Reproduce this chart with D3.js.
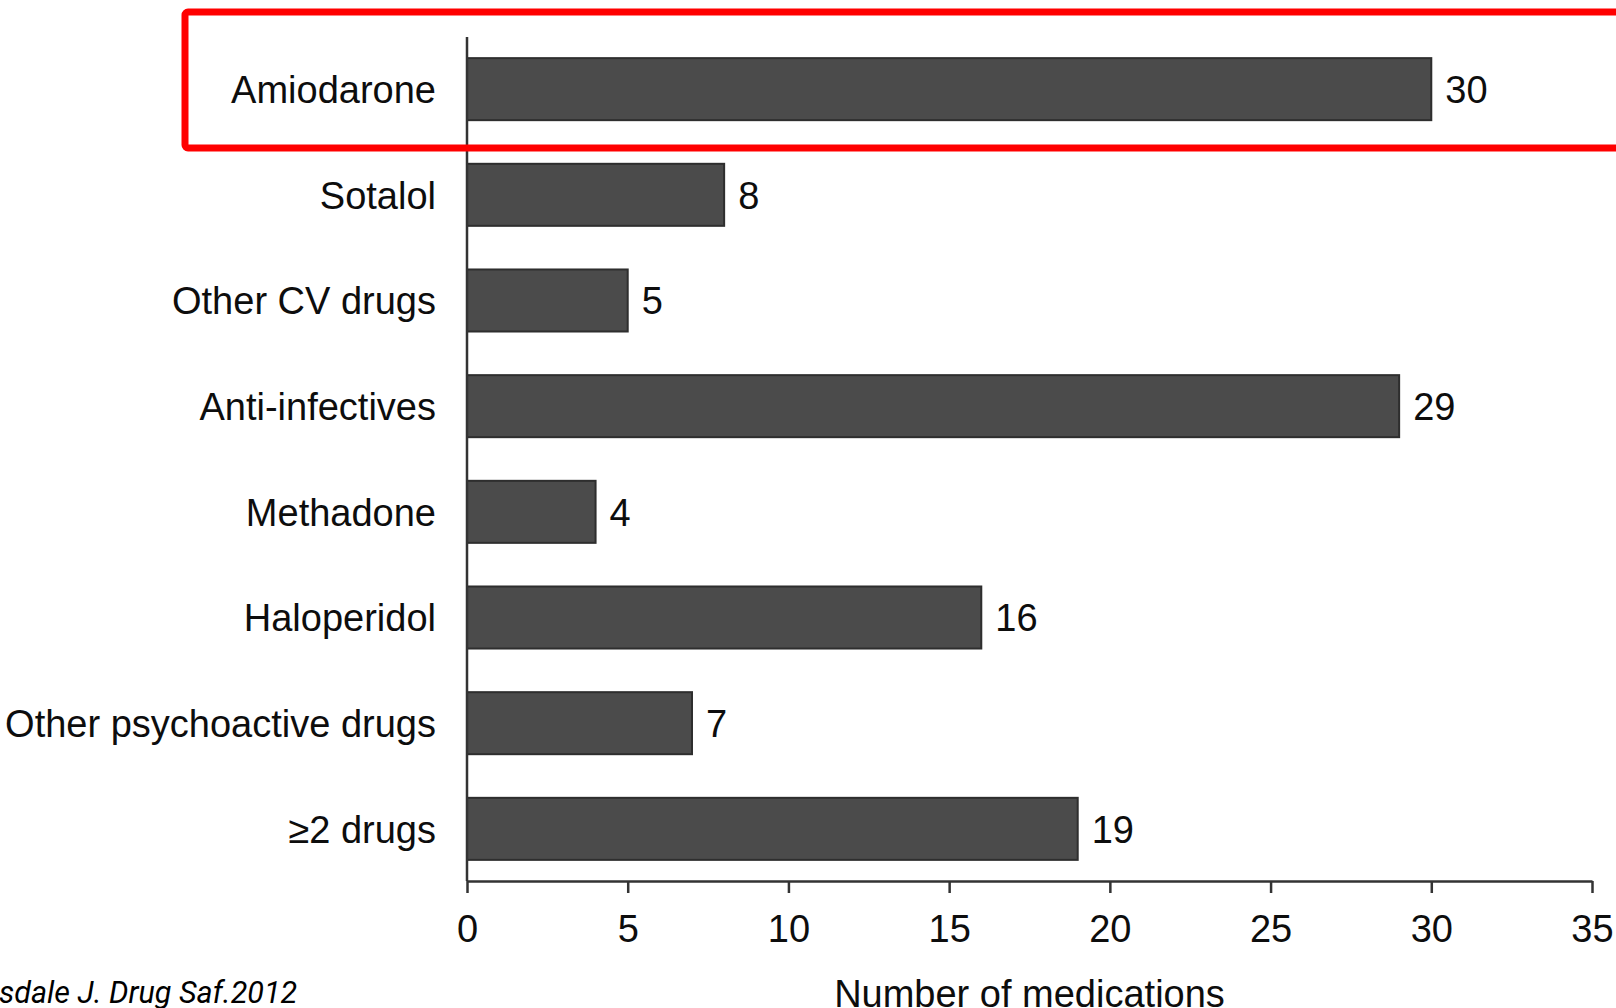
<!DOCTYPE html>
<html>
<head>
<meta charset="utf-8">
<script src="https://cdn.jsdelivr.net/npm/d3@7"></script>
<style>
  html, body { margin: 0; padding: 0; background: #fff; }
  svg { display: block; }
</style>
</head>
<body>
<svg id="chart" width="1616" height="1008"></svg>
<script>
// Drug classes associated with torsades de pointes
const categories = [
  "Amiodarone",
  "Sotalol",
  "Other CV drugs",
  "Anti-infectives",
  "Methadone",
  "Haloperidol",
  "Other psychoactive drugs",
  "\u22652 drugs"
];
const counts = [30, 8, 5, 29, 4, 16, 7, 19];
const xTicks = [0, 5, 10, 15, 20, 25, 30, 35];
const xTitle = "Number of medications";
const citation = "Tisdale J. Drug Saf.2012";

(function draw() {
  const plotLeft = 467, plotRight = 1592, plotTop = 37, plotBottom = 881;
  const font = "'Liberation Sans', Arial, Helvetica, sans-serif";
  const ink = "#0d0d0d";

  const svg = d3.select("#chart");

  const x = d3.scaleLinear().domain([0, 35]).range([plotLeft, plotRight]);
  const y = d3.scaleBand()
    .domain(categories)
    .range([plotTop, plotBottom])
    .paddingInner(0.413)
    .paddingOuter(0.2);

  const data = categories.map((c, i) => ({ c, v: counts[i] }));

  // Bars
  svg.append("g")
    .selectAll("rect")
    .data(data)
    .join("rect")
    .attr("x", x(0))
    .attr("y", d => y(d.c))
    .attr("width", d => x(d.v) - x(0))
    .attr("height", y.bandwidth())
    .attr("fill", "#4b4b4b")
    .attr("stroke", "#2e2e2e")
    .attr("stroke-width", 2);

  // Value labels
  svg.append("g")
    .selectAll("text")
    .data(data)
    .join("text")
    .attr("x", d => x(d.v) + 14)
    .attr("y", d => y(d.c) + y.bandwidth() / 2)
    .attr("dy", "0.36em")
    .attr("font-family", font)
    .attr("font-size", 38)
    .attr("fill", ink)
    .text(d => d.v);

  // Category labels
  svg.append("g")
    .selectAll("text")
    .data(data)
    .join("text")
    .attr("x", plotLeft - 31)
    .attr("y", d => y(d.c) + y.bandwidth() / 2)
    .attr("dy", "0.36em")
    .attr("text-anchor", "end")
    .attr("font-family", font)
    .attr("font-size", 38)
    .attr("fill", ink)
    .text(d => d.c);

  // Y axis line
  svg.append("line")
    .attr("x1", plotLeft).attr("x2", plotLeft)
    .attr("y1", plotTop).attr("y2", plotBottom)
    .attr("stroke", "#333").attr("stroke-width", 2.5);

  // X axis
  const xAxis = svg.append("g")
    .attr("transform", `translate(0,${plotBottom})`)
    .call(d3.axisBottom(x).tickValues(xTicks).tickSize(12).tickPadding(22).tickSizeOuter(0));
  xAxis.select(".domain").attr("stroke", "#333").attr("stroke-width", 2.5);
  xAxis.selectAll(".tick line").attr("stroke", "#333").attr("stroke-width", 2.5);
  xAxis.selectAll(".tick text")
    .attr("font-family", font)
    .attr("font-size", 38)
    .attr("fill", ink);

  // X axis title
  svg.append("text")
    .attr("x", (plotLeft + plotRight) / 2)
    .attr("y", 1007)
    .attr("text-anchor", "middle")
    .attr("font-family", font)
    .attr("font-size", 38)
    .attr("fill", ink)
    .text(xTitle);

  // Source citation, running off the left edge of the page
  const cite = svg.append("text")
    .attr("x", 0)
    .attr("y", 1003)
    .attr("font-family", "Roboto, 'Open Sans', sans-serif")
    .attr("font-style", "italic")
    .attr("font-size", 30.5)
    .attr("fill", "#000")
    .text(citation);
  const lead = cite.node().getSubStringLength(0, 2);
  cite.attr("x", -lead - 1);

  // Highlight box around the top bar
  svg.append("rect")
    .attr("x", 185)
    .attr("y", 12)
    .attr("width", 1500)
    .attr("height", 136)
    .attr("rx", 3)
    .attr("fill", "none")
    .attr("stroke", "#ff0000")
    .attr("stroke-width", 7);
})();
</script>
</body>
</html>
